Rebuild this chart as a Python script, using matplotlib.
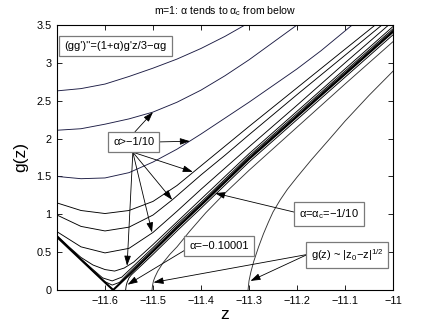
import numpy as np
import matplotlib
matplotlib.use("Agg")
import matplotlib.pyplot as plt

plt.rcParams['font.family'] = ['Liberation Sans', 'DejaVu Sans']
plt.rcParams['mathtext.default'] = 'regular'
plt.rcParams['axes.unicode_minus'] = True

# solutions that turn round (alpha > -1/10), top to bottom
z_c1 = [-11.7, -11.65, -11.6, -11.55, -11.5, -11.45, -11.4, -11.35, -11.3]
g_c1 = [2.63, 2.66, 2.72, 2.82, 2.93, 3.05, 3.19, 3.35, 3.53]

z_c2 = [-11.7, -11.65, -11.6, -11.55, -11.5, -11.45, -11.4, -11.35, -11.3, -11.25, -11.2]
g_c2 = [2.11, 2.13, 2.19, 2.26, 2.35, 2.48, 2.64, 2.83, 3.04, 3.27, 3.5]

z_c3 = [-11.7, -11.65, -11.6, -11.55, -11.5, -11.45, -11.4, -11.35, -11.3, -11.25, -11.2, -11.15, -11.085]
g_c3 = [1.50, 1.47, 1.48, 1.55, 1.69, 1.86, 2.06, 2.27, 2.48, 2.70, 2.92, 3.16, 3.5]

z_c4 = [-11.7, -11.65, -11.6, -11.55, -11.5, -11.45, -11.4, -11.35, -11.3, -11.2, -11.1, -11.037]
g_c4 = [1.15, 1.05, 1.01, 1.05, 1.17, 1.38, 1.64, 1.90, 2.16, 2.67, 3.18, 3.5]

z_c5 = [-11.7, -11.65, -11.6, -11.55, -11.5, -11.46, -11.4, -11.35, -11.3, -11.2, -11.1, -11.023]
g_c5 = [0.99, 0.84, 0.78, 0.83, 0.99, 1.19, 1.52, 1.78, 2.05, 2.58, 3.10, 3.5]

z_c6 = [-11.7, -11.65, -11.6, -11.55, -11.5, -11.45, -11.4, -11.3, -11.2, -11.1, -11.0]
g_c6 = [0.77, 0.57, 0.49, 0.55, 0.76, 1.04, 1.33, 1.89, 2.44, 3.0, 3.55]

z_c7 = [-11.7, -11.675, -11.65, -11.625, -11.6, -11.58, -11.56, -11.54, -11.5, -11.45, -11.4, -11.3, -11.2, -11.1, -11.0]
g_c7 = [0.72, 0.57, 0.43, 0.33, 0.27, 0.25, 0.29, 0.37, 0.60, 0.90, 1.20, 1.80, 2.36, 2.92, 3.48]

z_c8 = [-11.7, -11.65, -11.625, -11.605, -11.585, -11.565, -11.545, -11.5, -11.45, -11.4, -11.3, -11.2, -11.1, -11.0]
g_c8 = [0.71, 0.41, 0.27, 0.16, 0.12, 0.17, 0.29, 0.56, 0.87, 1.16, 1.77, 2.33, 2.89, 3.45]

z_c9 = [-11.7, -11.65, -11.62, -11.6, -11.585, -11.57, -11.55, -11.5, -11.45, -11.4, -11.3, -11.2, -11.1, -11.0]
g_c9 = [0.705, 0.405, 0.22, 0.11, 0.065, 0.10, 0.23, 0.535, 0.845, 1.14, 1.75, 2.31, 2.87, 3.43]

# critical solution alpha = alpha_c = -1/10 (thick)
z_crit = [-11.7, -11.65, -11.6, -11.583, -11.55, -11.5, -11.45, -11.4, -11.3, -11.2, -11.1, -11.0]
g_crit = [0.70, 0.40, 0.10, 0.0, 0.20, 0.51, 0.82, 1.12, 1.73, 2.29, 2.85, 3.41]

# solutions ending at g=0 (sqrt behaviour)
z_a10001 = [-11.557, -11.556, -11.554, -11.55, -11.545, -11.535, -11.52, -11.5, -11.45, -11.4, -11.3, -11.2, -11.1, -11.0]
g_a10001 = [0.0, 0.05, 0.10, 0.16, 0.20, 0.26, 0.35, 0.47, 0.78, 1.08, 1.69, 2.25, 2.81, 3.37]

z_s1 = [-11.502, -11.501, -11.499, -11.496, -11.49, -11.479, -11.465, -11.45, -11.423, -11.39, -11.35, -11.3, -11.2, -11.1, -11.0]
g_s1 = [0.0, 0.06, 0.12, 0.17, 0.25, 0.36, 0.47, 0.57, 0.78, 1.02, 1.28, 1.58, 2.15, 2.72, 3.28]

z_s2 = [-11.302, -11.3, -11.296, -11.29, -11.28, -11.27, -11.26, -11.25, -11.235, -11.22, -11.2, -11.17, -11.13, -11.1, -11.05, -11.0]
g_s2 = [0.0, 0.12, 0.24, 0.38, 0.57, 0.74, 0.89, 1.03, 1.19, 1.33, 1.49, 1.72, 2.01, 2.23, 2.57, 2.89]

x_ticks = [-11.6, -11.5, -11.4, -11.3, -11.2, -11.1, -11.0]
x_tick_labels = ['\u221211.6', '\u221211.5', '\u221211.4', '\u221211.3', '\u221211.2', '\u221211.1', '\u221211']
y_ticks = [0, 0.5, 1, 1.5, 2, 2.5, 3, 3.5]
y_tick_labels = ['0', '0.5', '1', '1.5', '2', '2.5', '3', '3.5']

fig = plt.figure(figsize=(4.35, 3.26), dpi=100)
ax = fig.add_axes([57/435, 36/326, 336/435, 265/326])

navy = '#1c1c44'
for z, g, col in [(z_c1, g_c1, navy), (z_c2, g_c2, navy), (z_c3, g_c3, navy),
                  (z_c4, g_c4, 'k'), (z_c5, g_c5, 'k'), (z_c6, g_c6, 'k'),
                  (z_c7, g_c7, 'k'), (z_c8, g_c8, 'k'), (z_c9, g_c9, 'k'),
                  (z_a10001, g_a10001, 'k'), (z_s1, g_s1, '#333333'), (z_s2, g_s2, '#333333')]:
    ax.plot(z, g, color=col, lw=0.65)
ax.plot(z_crit, g_crit, color='k', lw=1.5)

ax.set_xlim(-11.7, -11.0)
ax.set_ylim(0, 3.5)
ax.set_xticks(x_ticks)
ax.set_xticklabels(x_tick_labels)
ax.set_yticks(y_ticks)
ax.set_yticklabels(y_tick_labels)
ax.tick_params(direction='in', length=3.5, width=0.6, labelsize=7.8, top=True, right=True, pad=4)
for s in ax.spines.values():
    s.set_linewidth(0.8)

ax.set_xlabel('z', fontsize=12.5, labelpad=1)
ax.set_ylabel('g(z)', fontsize=12.5, labelpad=6)
ax.set_title('m=1: \u03b1 tends to \u03b1$_c$ from below', fontsize=7.6, pad=8)

box = dict(boxstyle='square,pad=0.45', fc='white', ec='#7a7a7a', lw=0.9)
arr = dict(arrowstyle='-|>,head_length=0.6,head_width=0.2', color='k', lw=0.6,
           shrinkA=0, shrinkB=0)
fs = 8

ax.text(-11.578, 3.22, "(gg')''=(1+\u03b1)g'z/3\u2212\u03b1g", fontsize=fs,
        ha='center', va='center', bbox=box, zorder=5)

# alpha > -1/10 box and arrows
for tip, start in [((-11.5, 2.35), (-11.5375, 2.09)),
                   ((-11.423, 1.965), (-11.494, 1.955)),
                   ((-11.417, 1.56), (-11.542, 1.82)),
                   ((-11.46, 1.19), (-11.542, 1.82)),
                   ((-11.502, 0.76), (-11.542, 1.82)),
                   ((-11.554, 0.32), (-11.542, 1.82))]:
    ax.annotate('', xy=tip, xytext=start, arrowprops=arr, zorder=4)
ax.text(-11.540, 1.955, '\u03b1>\u22121/10', fontsize=fs, ha='center', va='center',
        bbox=box, zorder=5)

ax.annotate('', xy=(-11.371, 1.28), xytext=(-11.2, 1.02), arrowprops=arr, zorder=4)
ax.text(-11.133, 1.0, '\u03b1=\u03b1$_c$=\u22121/10', fontsize=fs, ha='center', va='center',
        bbox=box, zorder=5)

ax.annotate('', xy=(-11.553, 0.07), xytext=(-11.43, 0.54), arrowprops=arr, zorder=4)
ax.text(-11.3625, 0.58, '\u03b1=\u22120.10001', fontsize=fs, ha='center', va='center',
        bbox=box, zorder=5)

ax.annotate('', xy=(-11.297, 0.12), xytext=(-11.178, 0.47), arrowprops=arr, zorder=4)
ax.annotate('', xy=(-11.499, 0.1), xytext=(-11.178, 0.47), arrowprops=arr, zorder=4)
ax.text(-11.096, 0.46, 'g(z) ~ |z$_0$\u2212z|$^{1/2}$', fontsize=fs, ha='center', va='center',
        bbox=box, zorder=5)

fig.savefig('out.png', dpi=100)
